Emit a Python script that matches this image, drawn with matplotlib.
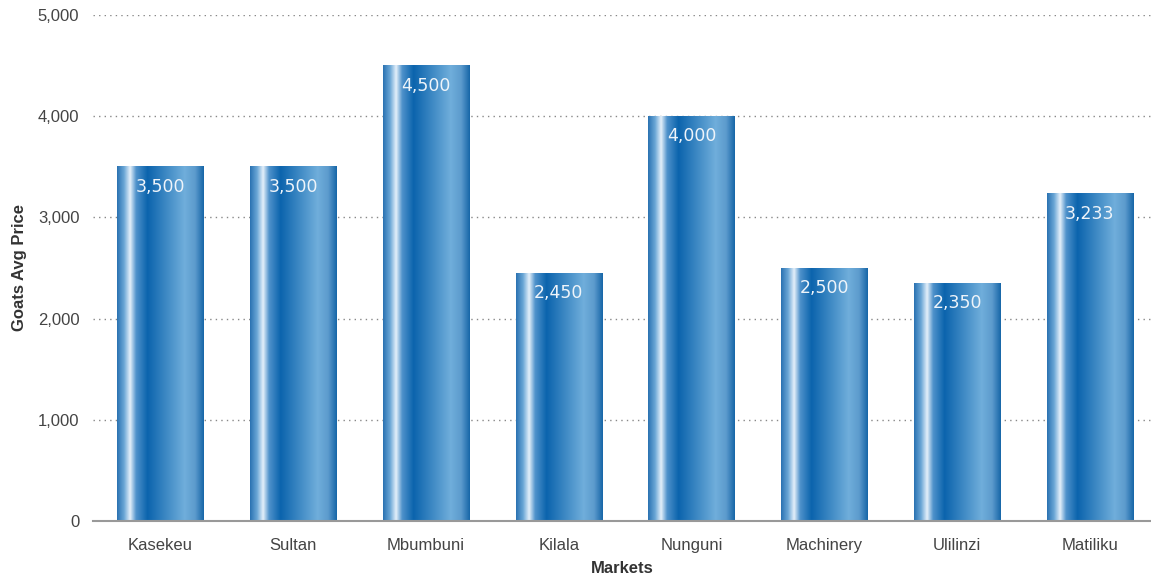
import numpy as np
import matplotlib
matplotlib.use("Agg")
import matplotlib.pyplot as plt
from matplotlib.colors import LinearSegmentedColormap
from matplotlib.ticker import FuncFormatter

# ---- data ----
markets = ["Kasekeu", "Sultan", "Mbumbuni", "Kilala", "Nunguni",
           "Machinery", "Ulilinzi", "Matiliku"]
avg_price = [3500, 3500, 4500, 2450, 4000, 2500, 2350, 3233]
y_ticks = [0, 1000, 2000, 3000, 4000, 5000]

# cylinder-like shading across each bar
shade = LinearSegmentedColormap.from_list("shade", [
    (0.00, "#2a72b2"),
    (0.08, "#6aa6d6"),
    (0.15, "#e4f0fa"),
    (0.22, "#4f92cb"),
    (0.35, "#0b64ad"),
    (0.78, "#70aedb"),
    (0.90, "#5c9bcd"),
    (1.00, "#1766a8"),
])
grad = np.linspace(0, 1, 256).reshape(1, -1)

fig = plt.figure(figsize=(11.51, 5.79), dpi=100)
ax = fig.add_axes([0.081, 0.1002, 0.919, 0.8739])

x = np.arange(len(markets))
width = 0.65
bars = ax.bar(x, avg_price, width=width, color="none", zorder=3)
for b, val in zip(bars, avg_price):
    x0 = b.get_x()
    ax.imshow(grad, cmap=shade, aspect="auto", zorder=3,
              extent=(x0, x0 + b.get_width(), 0, val))
    ax.text(b.get_x() + b.get_width() / 2, val - 200, f"{val:,}",
            ha="center", va="center", color="#eef4fa",
            fontsize=12.5, family="DejaVu Sans", zorder=4)

ax.set_xlim(-0.505, 7.46)
ax.set_ylim(0, 5000)
ax.set_yticks(y_ticks)
ax.yaxis.set_major_formatter(FuncFormatter(lambda v, p: f"{int(v):,}"))
ax.set_xticks(x)
ax.set_xticklabels(markets)

ax.grid(axis="y", linestyle=(0, (1, 3)), color="#888888", linewidth=1, zorder=0)
for s in ["top", "right", "left"]:
    ax.spines[s].set_visible(False)
ax.spines["bottom"].set_color("#999999")
ax.spines["bottom"].set_linewidth(1.5)
ax.spines["bottom"].set_zorder(5)
ax.tick_params(length=0, labelsize=12, labelcolor="#444444")
ax.tick_params(axis="y", pad=10)
ax.tick_params(axis="x", pad=12)
for lbl in ax.get_xticklabels() + ax.get_yticklabels():
    lbl.set_family("Liberation Sans")

ax.set_xlabel("Markets", fontsize=12, fontweight="bold", color="#333333",
              family="Liberation Sans", labelpad=6)
ax.set_ylabel("Goats Avg Price", fontsize=12, fontweight="bold", color="#333333",
              family="Liberation Sans", labelpad=8)

fig.savefig("out.png", dpi=100)
